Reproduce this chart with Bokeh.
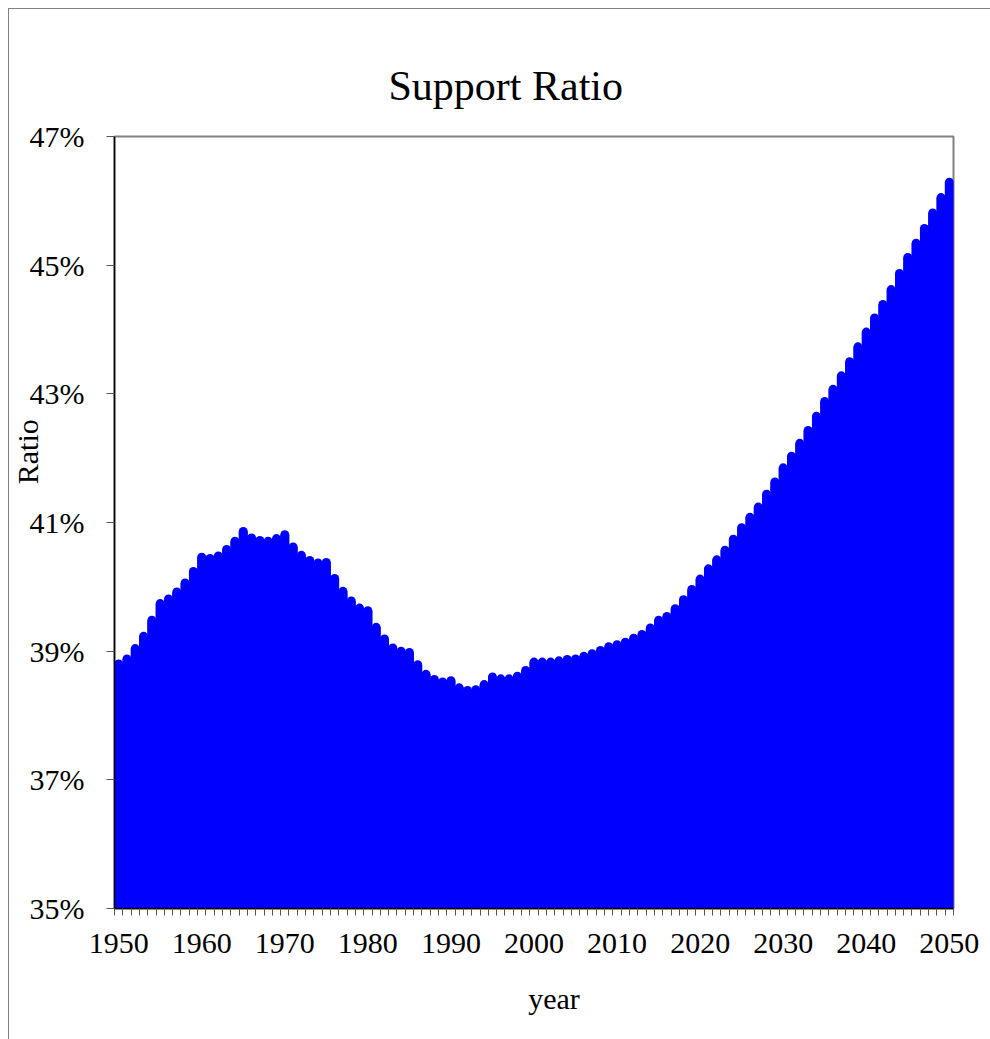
import math
from bokeh.plotting import figure
from bokeh.models import (Range1d, FixedTicker, PrintfTickFormatter,
                          ColumnDataSource, LinearAxis)
from bokeh.embed import file_html
from bokeh.resources import INLINE

years = list(range(1950, 2051))
ratio = [
    38.80, 38.88, 39.04, 39.23, 39.48, 39.74, 39.81, 39.92, 40.06, 40.24,  # 1950-59
    40.46, 40.44, 40.48, 40.58, 40.71, 40.86, 40.76, 40.72, 40.71, 40.75,  # 1960-69
    40.81, 40.62, 40.49, 40.41, 40.37, 40.38, 40.13, 39.93, 39.78, 39.67,  # 1970-79
    39.63, 39.37, 39.19, 39.05, 39.00, 38.98, 38.79, 38.64, 38.56, 38.52,  # 1980-89
    38.54, 38.43, 38.39, 38.40, 38.48, 38.60, 38.57, 38.57, 38.61, 38.70,  # 1990-99
    38.83, 38.83, 38.83, 38.85, 38.87, 38.88, 38.92, 38.96, 39.01, 39.07,  # 2000-09
    39.10, 39.14, 39.20, 39.26, 39.36, 39.48, 39.54, 39.66, 39.80, 39.96,  # 2010-19
    40.12, 40.28, 40.42, 40.57, 40.74, 40.92, 41.08, 41.24, 41.44, 41.63,  # 2020-29
    41.85, 42.03, 42.23, 42.43, 42.65, 42.88, 43.07, 43.28, 43.50, 43.73,  # 2030-39
    43.96, 44.18, 44.39, 44.62, 44.87, 45.12, 45.34, 45.57, 45.81, 46.05,  # 2040-49
    46.29,                                                                 # 2050
]
y_ticks = [35, 37, 39, 41, 43, 45, 47]
x_label_years = list(range(1950, 2051, 10))

TITLE = "Support Ratio"
Y_TITLE = "Ratio"
X_TITLE = "year"
# where the axis titles sit along their axes (data units)
Y_TITLE_AT = 42.1
X_TITLE_AT = 2002.4

FONT = "Liberation Serif"
base = y_ticks[0]

src = ColumnDataSource(dict(x=years, y1=ratio, y0=[base] * len(years)))

W, H = 990, 1039
p = figure(width=W, height=H, output_backend="svg", toolbar_location=None,
           x_range=Range1d(years[0] - 0.5, years[-1] + 0.5),
           y_range=Range1d(y_ticks[0], y_ticks[-1]),
           min_border_left=114, min_border_right=37,
           min_border_top=136, min_border_bottom=131)

# solid body of each bar, then round-capped strokes for the tops
p.vbar(x="x", top="y1", bottom="y0", width=1.06, source=src,
       fill_color="#0000FF", line_color=None)
p.segment(x0="x", y0="y0", x1="x", y1="y1", source=src,
          line_color="#0000FF", line_width=9, line_cap="round")

p.grid.visible = False
p.background_fill_color = "white"
p.border_fill_color = None
p.outline_line_color = "#808080"
p.outline_line_width = 2
p.styles = {"box-shadow": "inset 8px 8px 0 white, inset 9px 9px 0 #808080"}

# title
p.title.text = TITLE
p.title.text_font = FONT
p.title.text_font_size = "42px"
p.title.text_font_style = "normal"
p.title.text_color = "black"
p.title.align = "left"
p.title.offset = 274
p.title.standoff = 55

# x axis
xa = p.xaxis[0]
xa.ticker = FixedTicker(ticks=x_label_years,
                        minor_ticks=[y - 0.5 for y in years] + [years[-1] + 0.5])
xa.major_tick_out = 0
xa.major_tick_in = 0
xa.minor_tick_out = 7
xa.minor_tick_in = 0
xa.minor_tick_line_color = "#555555"
xa.axis_line_color = "black"
xa.axis_line_width = 1.5
xa.major_label_text_font = FONT
xa.major_label_text_font_size = "30px"
xa.major_label_text_color = "black"
xa.major_label_standoff = 18

# y axis
ya = p.yaxis[0]
ya.ticker = FixedTicker(ticks=y_ticks, minor_ticks=[])
ya.formatter = PrintfTickFormatter(format="%d%%")
ya.major_tick_out = 8
ya.major_tick_in = 0
ya.major_tick_line_color = "#555555"
ya.axis_line_color = "black"
ya.axis_line_width = 1.5
ya.major_label_text_font = FONT
ya.major_label_text_font_size = "30px"
ya.major_label_text_color = "black"
ya.major_label_standoff = 22

# axis titles, drawn as single labelled ticks on extra bare axes
def title_axis(at, text, **kw):
    ax = LinearAxis(ticker=FixedTicker(ticks=[at], minor_ticks=[]),
                    major_label_overrides={at: text},
                    axis_line_color=None, major_tick_line_color=None,
                    minor_tick_line_color=None,
                    major_label_text_font=FONT,
                    major_label_text_font_size="30px",
                    major_label_text_color="black", **kw)
    return ax

p.add_layout(title_axis(Y_TITLE_AT, Y_TITLE, major_label_orientation="vertical",
                        major_label_standoff=-24), "left")
p.add_layout(title_axis(X_TITLE_AT, X_TITLE, major_label_standoff=20), "below")

open("out.html", "w").write(file_html(p, INLINE))
